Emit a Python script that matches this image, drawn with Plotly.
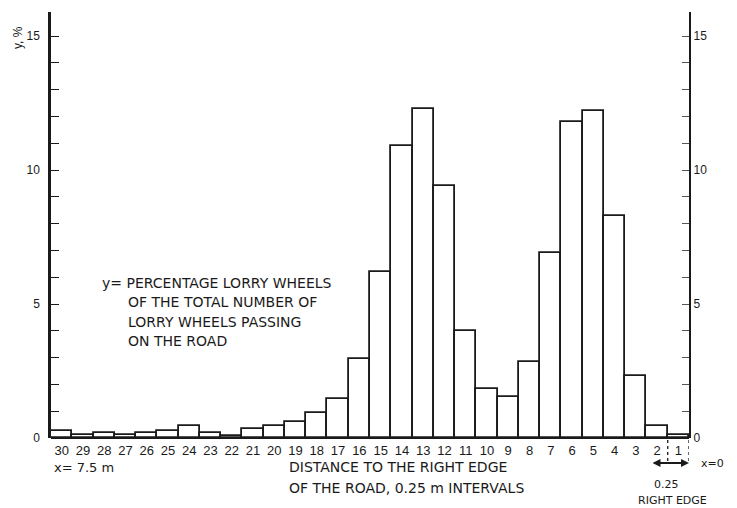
import plotly.graph_objects as go

# Data
distance_class = list(range(30, 0, -1))  # 30 ... 1 (0.25 m intervals)
percent_wheels = [0.28, 0.10, 0.20, 0.13, 0.20, 0.27, 0.45, 0.20, 0.08, 0.35,
                  0.45, 0.60, 0.95, 1.45, 2.95, 6.20, 10.9, 12.28, 9.40, 4.00,
                  1.83, 1.53, 2.84, 6.90, 11.8, 12.2, 8.28, 2.31, 0.45, 0.10]
tick_labels = [str(d) for d in distance_class]
y_ticks = [0, 5, 10, 15]

W, H = 737, 508
L, R, T, B = 51, 48, 12, 70
PW, PH = W - L - R, H - T - B
YMAX = 15.9

def px(x):
    return (x - L) / PW

def py(y):
    return (H - B - y) / PH

FONT = "DejaVu Sans, Liberation Sans, sans-serif"
TFONT = "Liberation Sans, Arial, sans-serif"
INK = "#1a1a1a"

fig = go.Figure()
fig.add_trace(go.Bar(
    x=distance_class, y=percent_wheels,
    marker=dict(color="white", line=dict(color=INK, width=1.8)),
    width=1.0, hoverinfo="skip", showlegend=False,
))
fig.add_trace(go.Scatter(x=[], y=[], yaxis="y2", showlegend=False, hoverinfo="skip"))

fig.update_layout(
    width=W, height=H,
    margin=dict(l=L, r=R, t=T, b=B),
    paper_bgcolor="white", plot_bgcolor="white",
    bargap=0,
    font=dict(family=TFONT, size=12, color=INK),
    xaxis=dict(
        range=[30.5, 0.5], tickmode="array", tickvals=distance_class, ticktext=tick_labels,
        showgrid=False, zeroline=False, showline=False, ticks="",
        tickfont=dict(size=13, color=INK), ticklabelstandoff=3,
    ),
    yaxis=dict(
        range=[0, YMAX], tickvals=y_ticks, showgrid=False, zeroline=True,
        zerolinecolor=INK, zerolinewidth=2,
        showline=True, linecolor=INK, linewidth=2.5,
        ticks="inside", ticklen=8, tickwidth=1.3, tickcolor=INK,
        minor=dict(dtick=1, ticks="inside", ticklen=8, tickwidth=1.3, tickcolor=INK, showgrid=False),
        tickfont=dict(size=12, color=INK), ticklabelstandoff=6,
    ),
    yaxis2=dict(
        range=[0, YMAX], tickvals=y_ticks, overlaying="y", side="right",
        showgrid=False, zeroline=False,
        showline=True, linecolor=INK, linewidth=2.2,
        ticks="inside", ticklen=7, tickwidth=1, tickcolor="#555",
        minor=dict(dtick=1, ticks="inside", ticklen=7, tickwidth=1, tickcolor="#555", showgrid=False),
        tickfont=dict(size=12, color=INK), ticklabelstandoff=0,
    ),
)

annos = [
    dict(text="y, %", x=px(18), y=py(38), textangle=-90, xanchor="center",
         font=dict(size=12, family=TFONT)),
    dict(text="y= PERCENTAGE LORRY WHEELS", x=px(100), y=py(283), xanchor="left"),
    dict(text="OF THE TOTAL NUMBER OF", x=px(126), y=py(302), xanchor="left"),
    dict(text="LORRY WHEELS PASSING", x=px(126), y=py(322), xanchor="left"),
    dict(text="ON THE ROAD", x=px(126), y=py(341), xanchor="left"),
    dict(text="x= 7.5 m", x=px(52), y=py(467), xanchor="left", font=dict(size=13)),
    dict(text="DISTANCE TO THE RIGHT EDGE", x=px(287), y=py(467), xanchor="left"),
    dict(text="OF THE ROAD, 0.25 m INTERVALS", x=px(287), y=py(488), xanchor="left"),
    dict(text="x=0", x=px(699), y=py(463), xanchor="left", font=dict(size=11)),
    dict(text="0.25", x=px(666), y=py(484), xanchor="center", font=dict(size=11)),
    dict(text="RIGHT EDGE", x=px(672), y=py(500), xanchor="center", font=dict(size=11)),
]
for a in annos:
    a.setdefault("xref", "paper")
    a.setdefault("yref", "paper")
    a.setdefault("yanchor", "middle")
    a.setdefault("showarrow", False)
    a.setdefault("font", dict(size=14))
    a["font"].setdefault("family", FONT)
    a["font"].setdefault("color", INK)
    fig.add_annotation(**a)

# double-headed arrow for the 0.25 m interval
fig.add_annotation(xref="paper", yref="paper", x=px(689), y=py(463), ax=-38, ay=0,
                   text="", showarrow=True, arrowside="end+start", arrowhead=2,
                   arrowsize=0.8, arrowwidth=2, arrowcolor=INK)

# dotted guide lines at interval 1
for xd in (1.5, 0.5):
    fig.add_shape(type="line", xref="x", yref="paper", x0=xd, x1=xd,
                  y0=py(440), y1=py(462), line=dict(color=INK, width=1.3, dash="dot"))

fig.write_html("out.html")
